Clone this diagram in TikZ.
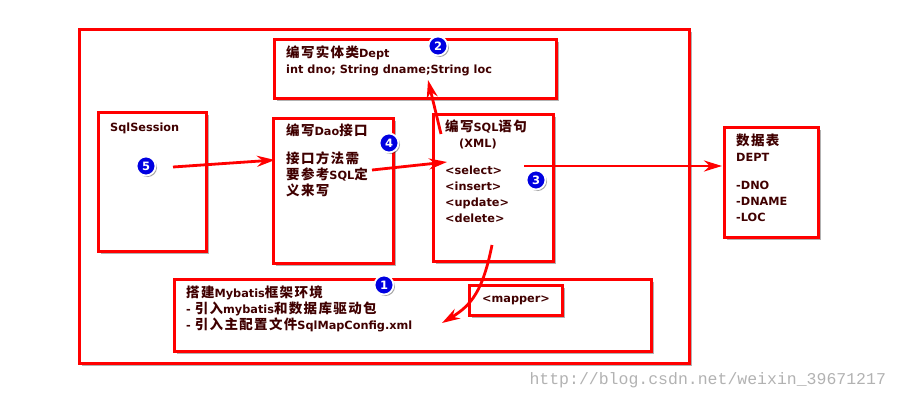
\documentclass[tikz,border=0pt]{standalone}
\usepackage{fontspec}
\setmainfont{DejaVu Sans}
\newfontfamily\cjk[LetterSpace=10]{Noto Sans CJK SC}
\newfontfamily\wmfont{Liberation Mono}
\newcommand{\zh}[1]{{\cjk\fontsize{13.5}{16.5}\selectfont #1}}
\usetikzlibrary{positioning,arrows.meta,shadows}
\definecolor{boxred}{RGB}{255,0,0}
\definecolor{txtbrown}{RGB}{64,0,0}
\definecolor{badgeblue}{RGB}{0,0,225}

\begin{document}
\begin{tikzpicture}[x=1pt,y=-1pt,
    box/.style={draw=boxred,line width=3pt,fill=white,anchor=north west,inner sep=0pt,
      drop shadow={shadow xshift=2.5pt,shadow yshift=-2.5pt,fill=black,opacity=.3}},
    txt/.style={text=txtbrown,font=\bfseries\fontsize{11.3}{16}\selectfont,align=left,inner sep=0pt},
    badge/.style={circle,draw=white,line width=1.8pt,fill=badgeblue,text=white,
      font=\bfseries\fontsize{11.5}{11.5}\selectfont,inner sep=0pt,minimum size=19pt,
      drop shadow={shadow xshift=1.5pt,shadow yshift=-1.5pt,fill=black,opacity=.35}},
    redarrow/.style={draw=boxred,line width=2.8pt,-{Stealth[length=18pt,width=11pt]}}]
  \useasboundingbox (0,0) rectangle (897,400);

  % boxes
  \node[box,minimum width=610pt,minimum height=334pt] (frame) at (78,28) {};
  \node[box,minimum width=282pt,minimum height=59pt] (dept) at (273,38) {};
  \node[box,minimum width=108pt,minimum height=139pt] (session) at (97,111) {};
  \node[box,minimum width=120pt,minimum height=145pt] (dao) at (272,117) {};
  \node[box,minimum width=120pt,minimum height=147pt] (sql) at (432,113) {};
  \node[box,minimum width=94pt,minimum height=110pt] (table) at (723,126) {};
  \node[box,minimum width=477pt,minimum height=72pt] (env) at (173,278) {};
  \node[box,minimum width=93pt,minimum height=30pt,text=txtbrown,
    font=\bfseries\fontsize{11.3}{12}\selectfont] (mapper) at (468,284) {<mapper>};

  % texts
  \node[txt,below right=8pt and 13pt of dept.north west] (depttxt)
    {\zh{编写实体类}Dept\\int dno; String dname;String loc};
  \node[txt,below right=12pt and 13pt of session.north west] (sessiontxt) {SqlSession};
  \node[txt,below right=7pt and 14pt of dao.north west] (daotxt)
    {\zh{编写}Dao\zh{接口}\\[12pt]\zh{接口方法需}\\\zh{要参考}SQL\zh{定}\\\zh{义来写}};
  \node[txt,below right=7pt and 13pt of sql.north west] (sqltxt)
    {\zh{编写}SQL\zh{语句}\\\hspace*{14pt}(XML)\\[11pt]<select>\\<insert>\\<update>\\<delete>};
  \node[txt,below right=8pt and 13pt of table.north west] (tabletxt)
    {\zh{数据表}\\DEPT\\[12pt]-DNO\\-DNAME\\-LOC};
  \node[txt,below right=8pt and 13pt of env.north west] (envtxt)
    {\zh{搭建}Mybatis\zh{框架环境}\\- \zh{引入}mybatis\zh{和数据库驱动包}\\- \zh{引入主配置文件}SqlMapConfig.xml};
  \node[anchor=west,text=black!30,font=\wmfont\fontsize{16.5}{16.5}\selectfont] (mark) at (526,380)
    {http://blog.csdn.net/weixin\_39671217};

  % arrow ends
  \coordinate (sessionout) at (173,167);
  \coordinate (daoin) at (275,160);
  \coordinate (daoout) at (372,170);
  \coordinate (sqlin) at (447,162);
  \coordinate (sqlup) at (441,134);
  \coordinate (deptin) at (428,80);
  \coordinate (sqlout) at (524,166);
  \coordinate (tablein) at (722,166);
  \coordinate (sqldown) at (492,245);
  \coordinate (envin) at (442,323);

  \draw[redarrow] (sessionout) -- (daoin);
  \draw[redarrow] (daoout) -- (sqlin);
  \draw[redarrow] (sqlup) -- (deptin);
  \draw[redarrow] (sqlout) -- (tablein);
  \draw[redarrow] (sqldown) .. controls (483,290) and (472,305) .. (envin);

  % badges
  \node[badge] (b1) at (384,285) {1};
  \node[badge] (b2) at (438,46) {2};
  \node[badge] (b3) at (536,180) {3};
  \node[badge] (b4) at (389,143) {4};
  \node[badge] (b5) at (146,166) {5};
\end{tikzpicture}
\end{document}
